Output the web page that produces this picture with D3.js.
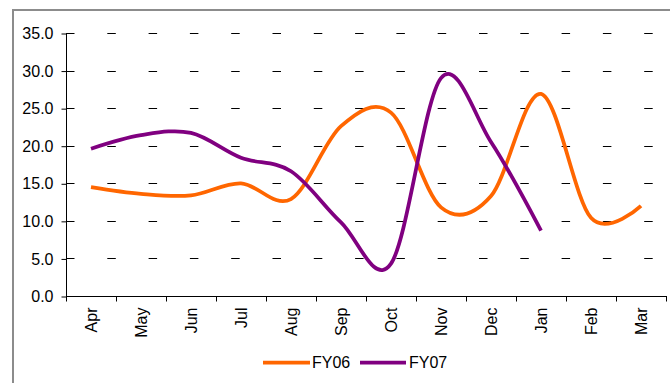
<!DOCTYPE html>
<html>
<head>
<meta charset="utf-8">
<script src="https://cdn.jsdelivr.net/npm/d3@7"></script>
<style>
  html, body { margin: 0; padding: 0; background: #fff; }
  svg { display: block; }
  text { font-family: "Liberation Sans", Arial, sans-serif; fill: #000; }
</style>
</head>
<body>
<svg id="chart" width="670" height="383"></svg>
<script>
const months = ["Apr","May","Jun","Jul","Aug","Sep","Oct","Nov","Dec","Jan","Feb","Mar"];
const fy06 = [14.5, 13.6, 13.4, 15.0, 12.9, 22.6, 24.4, 11.8, 13.3, 26.9, 10.4, 12.0];
const fy07 = [19.6, 21.4, 21.7, 18.4, 16.6, 9.8, 4.3, 29.0, 20.5, 8.7];
const yTicks = [0, 5, 10, 15, 20, 25, 30, 35];
const seriesNames = ["FY06", "FY07"];
const seriesColors = ["#FF6600", "#800080"];

(function () {
const svg = d3.select("#chart");

// outer frame
svg.append("rect")
  .attr("x", 13).attr("y", 10).attr("width", 720).attr("height", 420)
  .attr("fill", "none").attr("stroke", "#8c8c8c").attr("stroke-width", 2);

const pL = 66, pR = 666, pT = 33, pB = 296;

const x = d3.scaleBand().domain(months).range([pL, pR]).paddingInner(0).paddingOuter(0);
const y = d3.scaleLinear().domain([0, 35]).range([pB, pT]);

// gridlines (dashed)
svg.append("g").selectAll("line")
  .data(yTicks.filter(d => d > 0))
  .join("line")
  .attr("x1", pL).attr("x2", pR)
  .attr("y1", d => Math.round(y(d)) + 0.5).attr("y2", d => Math.round(y(d)) + 0.5)
  .attr("stroke", "#000").attr("stroke-width", 1)
  .attr("stroke-dasharray", "8.5 32.8");

// y axis
const yAxis = d3.axisLeft(y).tickValues(yTicks).tickFormat(d3.format(".1f")).tickSize(5).tickPadding(8);
const gy = svg.append("g").attr("transform", `translate(${pL + 0.5},0.5)`).call(yAxis);
gy.selectAll("path, line").attr("stroke", "#000");
gy.select(".domain").attr("d", `M0,${pT}V${pB}`);
gy.selectAll("text").attr("font-size", 16).attr("font-family", '"Liberation Sans", Arial, sans-serif').attr("fill", "#000");

// x axis
const gx = svg.append("g").attr("transform", `translate(0,${pB + 0.5})`);
gx.append("line").attr("x1", pL).attr("x2", pR + 1).attr("y1", 0).attr("y2", 0).attr("stroke", "#000");
const boundaries = months.map(m => x(m)).concat([pR]);
gx.selectAll("line.tick").data(boundaries).join("line")
  .attr("class", "tick")
  .attr("x1", d => Math.round(d) + 0.5).attr("x2", d => Math.round(d) + 0.5)
  .attr("y1", 0).attr("y2", 5).attr("stroke", "#000");
gx.selectAll("text").data(months).join("text")
  .attr("transform", d => `translate(${x(d) + x.bandwidth() / 2},${11}) rotate(-90)`)
  .attr("text-anchor", "end")
  .attr("dy", "0.35em")
  .attr("font-size", 16)
  .text(d => d);

// lines
const line = d3.line()
  .x((d, i) => x(months[i]) + x.bandwidth() / 2)
  .y(d => y(d))
  .curve(d3.curveCardinal.tension(0));

[fy06, fy07].forEach((s, k) => {
  svg.append("path")
    .datum(s)
    .attr("d", line)
    .attr("fill", "none")
    .attr("stroke", seriesColors[k])
    .attr("stroke-width", 3.75)
    .attr("stroke-linejoin", "round")
    .attr("stroke-linecap", "butt");
});

// legend
const legendItems = [
  { name: seriesNames[0], color: seriesColors[0], x1: 263, x2: 310, tx: 312 },
  { name: seriesNames[1], color: seriesColors[1], x1: 360, x2: 406, tx: 409 }
];
const lg = svg.append("g");
legendItems.forEach(it => {
  lg.append("line").attr("x1", it.x1).attr("x2", it.x2).attr("y1", 362.5).attr("y2", 362.5)
    .attr("stroke", it.color).attr("stroke-width", 3.75);
  lg.append("text").attr("x", it.tx).attr("y", 362.5).attr("dy", "0.35em")
    .attr("font-size", 16).text(it.name);
});
})();
</script>
</body>
</html>
